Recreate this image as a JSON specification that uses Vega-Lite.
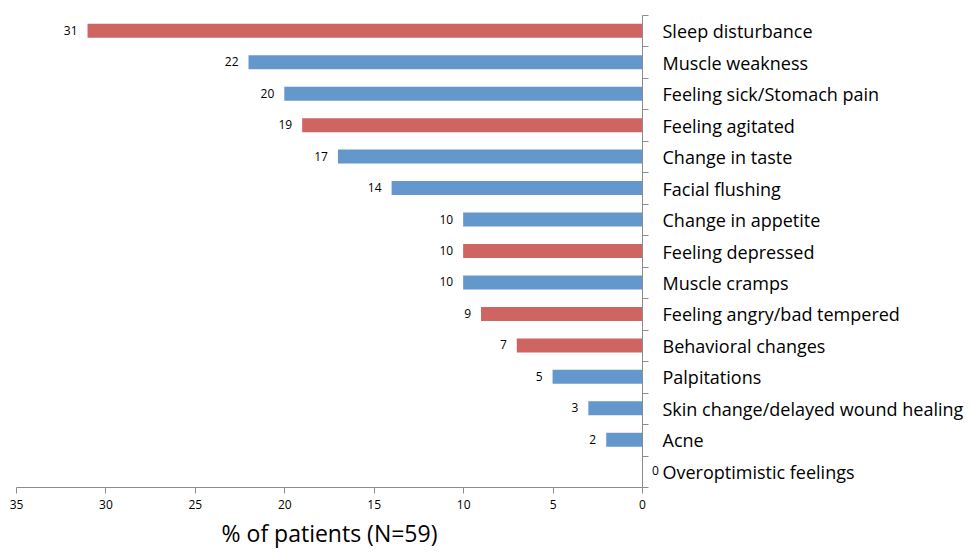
{
  "$schema": "https://vega.github.io/schema/vega-lite/v6.json",
  "autosize": "none",
  "width": 626,
  "height": 472,
  "padding": {"left": 16, "top": 15, "right": 330, "bottom": 65},
  "background": "white",
  "config": {"view": {"stroke": null}, "font": "Open Sans"},
  "data": {
    "values": [
      {"symptom": "Sleep disturbance", "pct": 31, "type": "Psychological"},
      {"symptom": "Muscle weakness", "pct": 22, "type": "Physical"},
      {"symptom": "Feeling sick/Stomach pain", "pct": 20, "type": "Physical"},
      {"symptom": "Feeling agitated", "pct": 19, "type": "Psychological"},
      {"symptom": "Change in taste", "pct": 17, "type": "Physical"},
      {"symptom": "Facial flushing", "pct": 14, "type": "Physical"},
      {"symptom": "Change in appetite", "pct": 10, "type": "Physical"},
      {"symptom": "Feeling depressed", "pct": 10, "type": "Psychological"},
      {"symptom": "Muscle cramps", "pct": 10, "type": "Physical"},
      {"symptom": "Feeling angry/bad tempered", "pct": 9, "type": "Psychological"},
      {"symptom": "Behavioral changes", "pct": 7, "type": "Psychological"},
      {"symptom": "Palpitations", "pct": 5, "type": "Physical"},
      {"symptom": "Skin change/delayed wound healing", "pct": 3, "type": "Physical"},
      {"symptom": "Acne", "pct": 2, "type": "Physical"},
      {"symptom": "Overoptimistic feelings", "pct": 0, "type": "Psychological"}
    ]
  },
  "encoding": {
    "y": {
      "field": "symptom",
      "type": "nominal",
      "sort": null,
      "scale": {"paddingInner": 0, "paddingOuter": 0},
      "axis": {
        "orient": "right",
        "title": null,
        "tickBand": "extent",
        "domainColor": "#8c8c8c",
        "tickColor": "#8c8c8c",
        "tickSize": 6,
        "labelPadding": 14,
        "labelOffset": 2,
        "labelFontSize": 18,
        "labelColor": "#000000",
        "labelFont": "Open Sans",
        "labelLimit": 400
      }
    },
    "x": {
      "field": "pct",
      "type": "quantitative",
      "scale": {"domain": [0, 35], "reverse": true, "nice": false},
      "axis": {
        "values": [0, 5, 10, 15, 20, 25, 30, 35],
        "grid": false,
        "domainColor": "#8c8c8c",
        "tickColor": "#8c8c8c",
        "tickSize": 6,
        "labelFontSize": 12,
        "labelColor": "#000000",
        "labelPadding": 6,
        "labelFlush": false,
        "title": "% of patients (N=59)",
        "titleFontSize": 23,
        "titleFontWeight": "normal",
        "titleColor": "#000000",
        "titlePadding": 13
      }
    }
  },
  "layer": [
    {
      "mark": {"type": "bar", "size": 14},
      "encoding": {
        "color": {
          "field": "type",
          "type": "nominal",
          "scale": {"domain": ["Psychological", "Physical"], "range": ["#CF6560", "#6498CD"]},
          "legend": null
        }
      }
    },
    {
      "transform": [{"filter": "datum.pct > 0"}],
      "mark": {"type": "text", "align": "right", "dx": -10, "fontSize": 12, "color": "#000000"},
      "encoding": {"text": {"field": "pct", "type": "quantitative"}}
    },
    {
      "transform": [{"filter": "datum.pct == 0"}],
      "mark": {"type": "text", "align": "left", "dx": 10, "fontSize": 12, "color": "#000000"},
      "encoding": {"text": {"field": "pct", "type": "quantitative"}}
    }
  ]
}
